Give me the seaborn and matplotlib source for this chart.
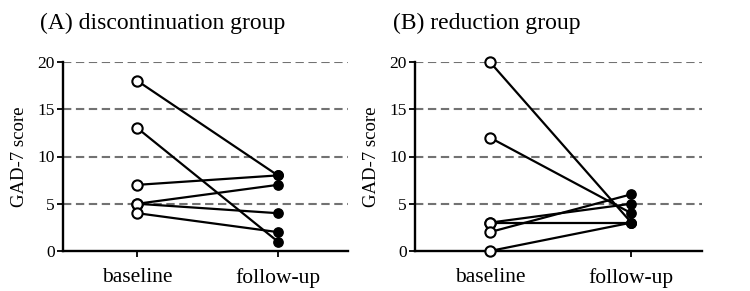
import matplotlib
matplotlib.use("Agg")
import matplotlib.pyplot as plt
import seaborn as sns
import pandas as pd

# Data
timepoints = ["baseline", "follow-up"]
a_baseline = [18, 13, 7, 5, 5, 4]
a_followup = [8, 1, 8, 7, 4, 2]
b_baseline = [20, 12, 3, 3, 2, 0]
b_followup = [3, 4, 5, 3, 6, 3]
titles = ["(A) discontinuation group", "(B) reduction group"]
y_ticks = [0, 5, 10, 15, 20]
y_label = "GAD-7 score"

sns.set_theme(style="white")
plt.rcParams['font.family'] = ['Liberation Serif', 'DejaVu Serif']
plt.rcParams['text.color'] = 'black'
plt.rcParams['axes.labelcolor'] = 'black'

fig = plt.figure(figsize=(7.5, 2.91), dpi=100)
ax_a = fig.add_axes([63/750, 40/291, 285/750, 189/291])
ax_b = fig.add_axes([415/750, 40/291, 287/750, 189/291])


def make_df(base, follow):
    rows = []
    for i, (b, f) in enumerate(zip(base, follow)):
        rows.append({"subject": i, "x": 0, "score": b, "time": timepoints[0]})
        rows.append({"subject": i, "x": 1, "score": f, "time": timepoints[1]})
    return pd.DataFrame(rows)


for ax, base, follow, title, tx in [
    (ax_a, a_baseline, a_followup, titles[0], 40),
    (ax_b, b_baseline, b_followup, titles[1], 393),
]:
    df = make_df(base, follow)
    for y in y_ticks[1:]:
        ax.axhline(y, color="#727272", lw=1.5, dashes=[4, 2.2], zorder=1)
    sns.lineplot(data=df, x="x", y="score", units="subject", estimator=None,
                 color="black", lw=1.6, ax=ax, zorder=2, legend=False)
    d0 = df[df["x"] == 0]
    d1 = df[df["x"] == 1]
    sns.scatterplot(data=d0, x="x", y="score", color="white", edgecolor="black",
                    linewidth=1.5, s=55, ax=ax, zorder=4, clip_on=False, legend=False)
    sns.scatterplot(data=d1, x="x", y="score", color="black", edgecolor="black",
                    linewidth=1.0, s=45, ax=ax, zorder=4, clip_on=False, legend=False)
    ax.set_xlim(-0.53, 1.5)
    ax.set_ylim(0, 20)
    ax.set_xticks([0, 1])
    ax.set_xticklabels(timepoints, fontsize=15.5)
    ax.set_yticks(y_ticks)
    ax.set_yticklabels([str(t) for t in y_ticks], fontsize=12.5)
    ax.set_xlabel("")
    ax.set_ylabel(y_label, fontsize=13.5, labelpad=7, color="black")
    for s in ["top", "right"]:
        ax.spines[s].set_visible(False)
    for s in ["left", "bottom"]:
        ax.spines[s].set_color("black")
        ax.spines[s].set_linewidth(1.7)
    ax.tick_params(axis="both", direction="out", length=4, width=1.3,
                   color="black", labelcolor="black", left=True, bottom=True, pad=2)
    ax.tick_params(axis="x", pad=8)
    ax.grid(False)
    fig.text(tx/750, 1 - 23/291, title, fontsize=17, va="center", ha="left",
             color="black")

fig.savefig("out.png", dpi=100)
